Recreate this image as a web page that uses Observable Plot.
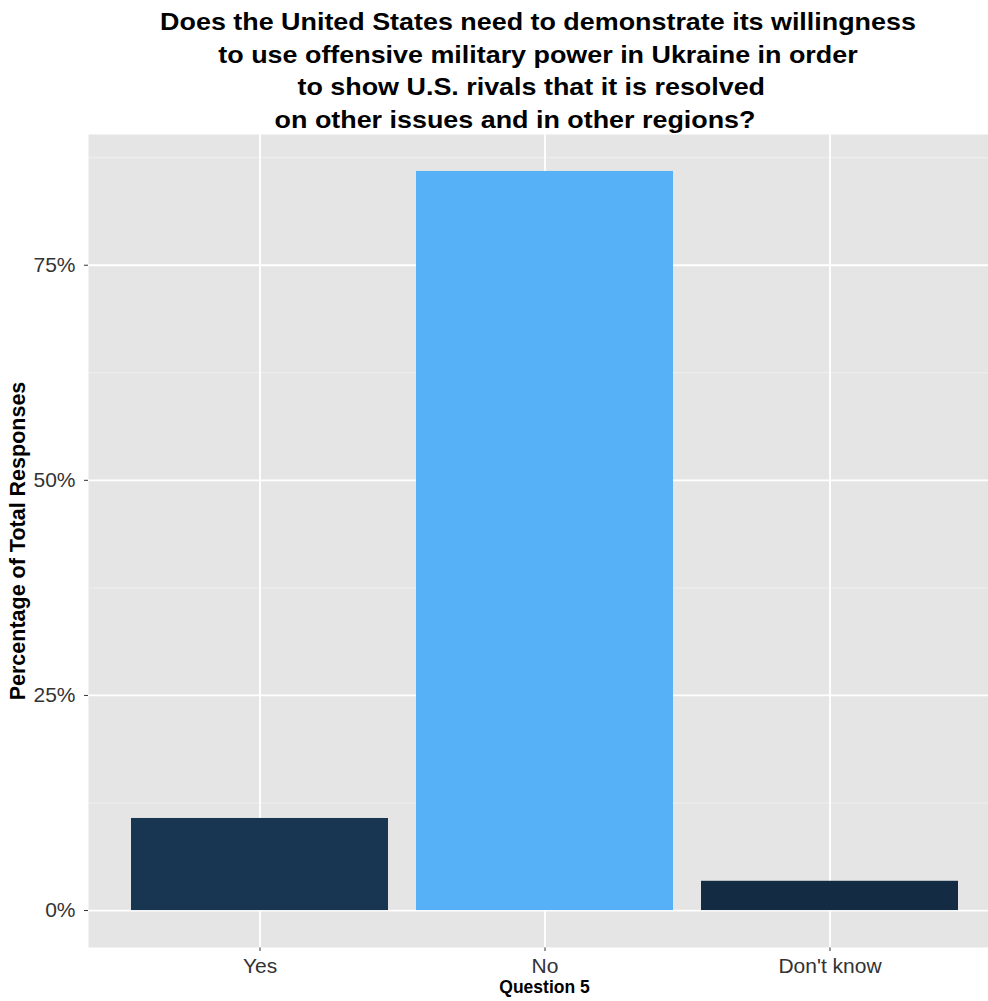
<!DOCTYPE html>
<html>
<head>
<meta charset="utf-8">
<script src="https://cdn.jsdelivr.net/npm/d3@7"></script>
<script src="https://cdn.jsdelivr.net/npm/@observablehq/plot@0.6"></script>
<style>
  html, body { margin: 0; padding: 0; background: white; overflow: hidden; }
  #wrap { width: 988px; height: 1001px; overflow: hidden; position: relative; font-family: "Liberation Sans", Arial, Helvetica, sans-serif; }
  #title { height: 128px; box-sizing: border-box; padding-top: 6px; width: 1076px; text-align: center; font-weight: bold; font-size: 24px; line-height: 32.5px; color: #000; }
  #title div { white-space: pre; transform: scaleX(1.12); transform-origin: 538px 50%; }
</style>
</head>
<body>
<div id="wrap">
  <div id="title"></div>
  <div id="chart"></div>
</div>
<script>
// ---- data ----
const titleLines = [
  "Does the United States need to demonstrate its willingness",
  "to use offensive military power in Ukraine in order",
  "to show U.S. rivals that it is resolved",
  "on other issues and in other regions?"
];
const categories = ["Yes", "No", "Don't know"];
const percentages = [10.7, 85.9, 3.4];
const yTicks = [0, 25, 50, 75];
const yMinorTicks = [12.5, 37.5, 62.5, 87.5];
const yAxisTitle = "Percentage of Total Responses";
const xAxisTitle = "Question 5";

// ---- title ----
const titleOffsets = [0, 0, 12, 41];
const titleEl = document.getElementById("title");
titleLines.forEach((t, i) => {
  const d = document.createElement("div");
  d.textContent = t;
  d.style.paddingRight = titleOffsets[i] + "px";
  titleEl.appendChild(d);
});

const data = categories.map((c, i) => ({category: c, value: percentages[i]}));
const maxV = d3.max(percentages);
const expand = maxV * 0.05;

const chart = Plot.plot({
  width: 988,
  height: 873,
  marginLeft: 88,
  marginRight: 0,
  marginTop: 6,
  marginBottom: 54,
  style: {
    fontFamily: "'Liberation Sans', Arial, Helvetica, sans-serif",
    fontSize: "21px",
    color: "#333",
    background: "white",
    overflow: "hidden"
  },
  x: {
    type: "band",
    domain: categories,
    range: [88, 1000],
    paddingInner: 0.1,
    paddingOuter: 0.15,
    align: 0.5,
    tickSize: 4,
    tickPadding: 7,
    label: null
  },
  y: {
    domain: [-expand, maxV + expand],
    ticks: yTicks,
    tickFormat: d => d + "%",
    tickSize: 4,
    tickPadding: 9,
    label: null
  },
  color: {
    type: "linear",
    domain: [d3.min(percentages), maxV],
    range: ["#132B43", "#56B1F7"],
    interpolate: "lab"
  },
  marks: [
    Plot.frame({fill: "#E5E5E5", stroke: null}),
    Plot.ruleY(yMinorTicks, {stroke: "#F2F2F2", strokeWidth: 0.9}),
    Plot.ruleY(yTicks, {stroke: "#FFFFFF", strokeWidth: 1.8}),
    Plot.ruleX(categories, {x: d => d, stroke: "#FFFFFF", strokeWidth: 1.8}),
    Plot.barY(data, {x: "category", y: "value", fill: "value"}),
    Plot.text([yAxisTitle], {frameAnchor: "left", textAnchor: "middle", dx: -70, rotate: -90, fontWeight: "bold", fontSize: 21.5, fill: "#000"}),
    Plot.text([xAxisTitle], {frameAnchor: "bottom", dy: 45, fontWeight: "bold", fontSize: 17.5, fill: "#000", dx: 6})
  ]
});
document.getElementById("chart").appendChild(chart);
</script>
</body>
</html>
